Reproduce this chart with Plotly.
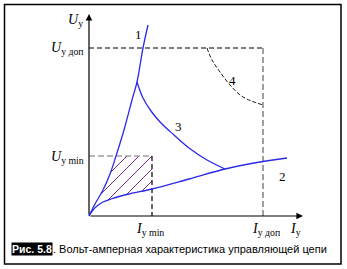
import numpy as np
import plotly.graph_objects as go

# ---- data (arbitrary units: current I, voltage U) ----
curve1_I = [0, 6, 14, 21, 27, 35, 43, 48, 54, 59]
curve1_U = [0, 12, 26, 42, 60, 86, 116, 134, 168, 191]

curve2_I = [0, 4, 8, 14, 22, 40, 63, 100, 136, 165, 198]
curve2_U = [0, 6, 10, 14, 17, 22, 27, 37, 47, 53, 58]

curve3_I = [48, 54, 62, 72, 85, 100, 118, 136]
curve3_U = [134, 118, 105, 93, 81, 68, 56, 47]

curve4_I = [118, 123, 131, 141, 154, 174]
curve4_U = [168, 156, 144, 131, 119, 111]

I_min, I_dop = 63, 174
U_min, U_dop = 60, 168
I_axis_max, U_axis_max = 214, 202

curve_labels = ["1", "2", "3", "4"]
label_I = [49, 193, 89, 143]
label_U = [182, 40, 90, 136]

hatch_offsets = [22, 10, -3, -16, -28]

BLUE = "#2a2ae8"
GRAY = "#a0a0a0"
PURPLE = "#7a2a88"
SERIF = "Liberation Serif, Times New Roman, serif"
SANS = "Liberation Sans, Arial, sans-serif"

fig = go.Figure()

# hatched region (bounded by curve 1, curve 2, U_min and I_min)
c1I = np.array(curve1_I, float); c1U = np.array(curve1_U, float)
c2I = np.array(curve2_I, float); c2U = np.array(curve2_U, float)
hx, hy = [], []
for k in hatch_offsets:
    t = np.linspace(0, I_min, 2000)
    u = t + k
    inside = (u <= U_min) & (t <= I_min) & (u >= np.interp(t, c2I, c2U)) & \
             (t >= np.interp(u, c1U, c1I)) & (u >= 0)
    if inside.any():
        ts = t[inside]
        hx += [ts.min(), ts.max(), None]
        hy += [ts.min() + k, ts.max() + k, None]
fig.add_trace(go.Scatter(x=hx, y=hy, mode="lines", line=dict(color=PURPLE, width=1),
                         hoverinfo="skip"))

# dashed reference lines
fig.add_trace(go.Scatter(x=[0, I_dop], y=[U_dop, U_dop], mode="lines",
                         line=dict(color="black", width=1.2, dash="5px,3px")))
fig.add_trace(go.Scatter(x=[I_dop, I_dop], y=[U_dop, 0], mode="lines",
                         line=dict(color=GRAY, width=2, dash="6px,3px")))
fig.add_trace(go.Scatter(x=[0, I_min], y=[U_min, U_min], mode="lines",
                         line=dict(color=GRAY, width=1.5, dash="6px,3px")))
fig.add_trace(go.Scatter(x=[I_min, I_min], y=[U_min, 0], mode="lines",
                         line=dict(color="black", width=1.2, dash="5px,3px")))
fig.add_trace(go.Scatter(x=curve4_I, y=curve4_U, mode="lines", line_shape="spline",
                         line=dict(color="black", width=0.9, dash="4px,2px")))

# characteristic curves
for xs, ys in [(curve1_I, curve1_U), (curve2_I, curve2_U), (curve3_I, curve3_U)]:
    fig.add_trace(go.Scatter(x=xs, y=ys, mode="lines", line_shape="spline",
                             line=dict(color=BLUE, width=1.3)))

annotations = []
# axes with arrows
annotations.append(dict(x=0, y=U_axis_max, ax=0, ay=0, xref="x", yref="y", axref="x", ayref="y",
                        showarrow=True, arrowhead=2, arrowsize=1.1, arrowwidth=1.2,
                        arrowcolor="black", text=""))
annotations.append(dict(x=I_axis_max, y=0, ax=0, ay=0, xref="x", yref="y", axref="x", ayref="y",
                        showarrow=True, arrowhead=2, arrowsize=1.1, arrowwidth=1.2,
                        arrowcolor="black", text=""))

def lab(text, x, y, xanchor="center", size=14):
    annotations.append(dict(x=x, y=y, xref="x", yref="y", text=text, showarrow=False,
                            xanchor=xanchor, yanchor="middle",
                            font=dict(family=SERIF, size=size, color="black")))

lab("<i>U</i><sub>у</sub>", -4, U_axis_max - 6, "right")
lab("<i>U</i><sub>у доп</sub>", -3, U_dop + 0, "right")
lab("<i>U</i><sub>у min</sub>", -3, U_min - 1, "right")
lab("<i>I</i><sub>у min</sub>", I_min - 2, -13)
lab("<i>I</i><sub>у доп</sub>", I_dop + 3, -13)
lab("<i>I</i><sub>у</sub>", I_axis_max - 8, -13)
for t, xi, yi in zip(curve_labels, label_I, label_U):
    lab(t, xi, yi, size=13)

# caption
annotations.append(dict(x=11, y=249, xref="paper", yref="paper",
                        text="<b>Рис. 5.8</b>", showarrow=False, xanchor="left", yanchor="middle",
                        bgcolor="black", borderpad=0,
                        font=dict(family=SANS, size=10.5, color="white")))
annotations.append(dict(x=51, y=249, xref="paper", yref="paper",
                        text=". Вольт-амперная характеристика управляющей цепи", showarrow=False,
                        xanchor="left", yanchor="middle",
                        font=dict(family=SANS, size=11, color="black")))
W, H = 347, 269
for a in annotations:
    if a.get("xref") == "paper":
        a["x"] = a["x"] / W
        a["y"] = 1 - a["y"] / H

fig.update_layout(
    width=W, height=H, margin=dict(l=0, r=0, t=0, b=0),
    paper_bgcolor="white", plot_bgcolor="white", showlegend=False,
    xaxis=dict(range=[-89, 258], visible=False, fixedrange=True),
    yaxis=dict(range=[-53, 216], visible=False, fixedrange=True),
    annotations=annotations,
    shapes=[dict(type="rect", xref="paper", yref="paper",
                 x0=4.5 / W, x1=341 / W, y0=1 - 264 / H, y1=1 - 4.5 / H,
                 line=dict(color="black", width=1.5))],
)
fig.write_html("out.html")
